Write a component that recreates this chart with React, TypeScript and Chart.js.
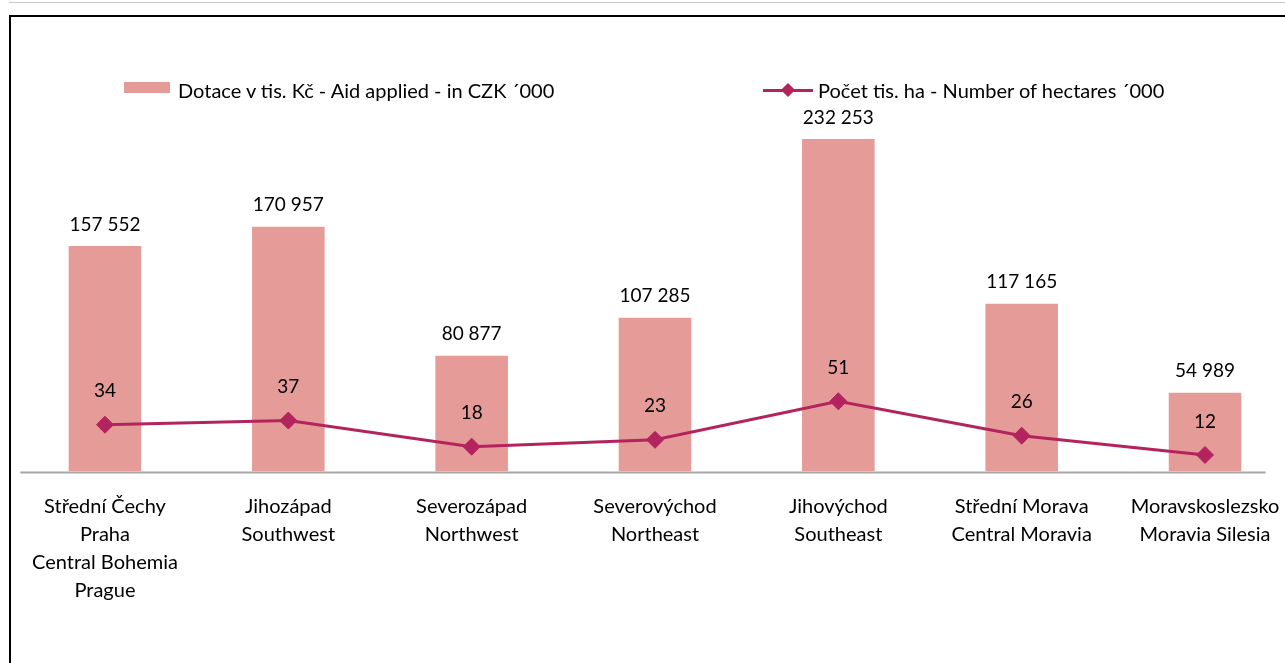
import React, { useEffect, useRef } from "react";
import { Chart, registerables } from "chart.js";

Chart.register(...registerables);

const categories: string[][] = [
  ["Střední Čechy", "Praha", "Central Bohemia", "Prague"],
  ["Jihozápad", "Southwest"],
  ["Severozápad", "Northwest"],
  ["Severovýchod", "Northeast"],
  ["Jihovýchod", "Southeast"],
  ["Střední Morava", "Central Moravia"],
  ["Moravskoslezsko", "Moravia Silesia"],
];
const aidValues: number[] = [157552, 170957, 80877, 107285, 232253, 117165, 54989];
const hectareValues: number[] = [34, 37, 18, 23, 51, 26, 12];
const aidLabel = "Dotace v tis. Kč - Aid applied - in CZK ´000";
const hectareLabel = "Počet tis. ha - Number of hectares ´000";

const BAR_COLOR = "#E59C98";
const LINE_COLOR = "#B3245E";
const FONT = "Lato, 'Noto Sans', sans-serif";

const fmt = (v: number) => String(v).replace(/\B(?=(\d{3})+(?!\d))/g, " ");

const labelsPlugin = {
  id: "valueLabels",
  afterDatasetsDraw(chart: any) {
    const ctx = chart.ctx;
    ctx.save();
    ctx.font = `19px ${FONT}`;
    ctx.fillStyle = "#000";
    ctx.textAlign = "center";
    ctx.textBaseline = "middle";
    chart.data.datasets.forEach((ds: any, i: number) => {
      const meta = chart.getDatasetMeta(i);
      meta.data.forEach((el: any, j: number) => {
        const v = ds.data[j];
        if (ds.type === "bar") {
          ctx.fillText(fmt(v), el.x, el.y - 21.5);
        } else {
          ctx.fillText(String(v), el.x, el.y - 33.5);
        }
      });
    });
    ctx.restore();
  },
};

const axisLinePlugin = {
  id: "axisLine",
  beforeDatasetsDraw(chart: any) {
    const { ctx, chartArea, scales } = chart;
    const y = scales.y.getPixelForValue(0) + 1;
    ctx.save();
    ctx.strokeStyle = "#A6A6A6";
    ctx.lineWidth = 2;
    ctx.beginPath();
    ctx.moveTo(chartArea.left + 7, y);
    ctx.lineTo(chartArea.right - 31, y);
    ctx.stroke();
    ctx.restore();
  },
};

export default function App() {
  const ref = useRef<HTMLCanvasElement | null>(null);

  useEffect(() => {
    if (!ref.current) return;
    const chart = new Chart(ref.current, {
      type: "bar",
      data: {
        labels: categories,
        datasets: [
          {
            type: "line",
            label: hectareLabel,
            data: hectareValues,
            yAxisID: "y2",
            borderColor: LINE_COLOR,
            backgroundColor: LINE_COLOR,
            borderWidth: 3,
            pointStyle: "rectRot",
            pointRadius: 8.5,
            pointBorderWidth: 1,
            pointBackgroundColor: LINE_COLOR,
            pointBorderColor: LINE_COLOR,
            tension: 0,
            order: 0,
            clip: false,
          } as any,
          {
            type: "bar",
            label: aidLabel,
            data: aidValues,
            yAxisID: "y",
            backgroundColor: BAR_COLOR,
            borderWidth: 0,
            barPercentage: 0.396,
            categoryPercentage: 1,
            order: 1,
          } as any,
        ],
      },
      options: {
        animation: false,
        responsive: false,
        devicePixelRatio: 1,
        layout: { padding: { top: 113.5, left: 13.3, right: 13.3, bottom: 0 } },
        plugins: { legend: { display: false }, tooltip: { enabled: false } },
        scales: {
          x: {
            offset: true,
            grid: { display: false, drawTicks: false },
            border: { display: false },
            ticks: {
              color: "#000",
              padding: 21,
              maxRotation: 0,
              autoSkip: false,
              font: { family: FONT, size: 20, lineHeight: "28px" },
            },
            afterFit: (scale: any) => {
              scale.height = 191.5;
            },
          },
          y: {
            display: false,
            min: 0,
            max: 250000,
          },
          y2: {
            display: false,
            position: "right",
            min: 0,
            max: 260,
          },
        },
      } as any,
      plugins: [axisLinePlugin, labelsPlugin],
    });
    return () => chart.destroy();
  }, []);

  const textStyle: React.CSSProperties = {
    position: "absolute",
    fontFamily: FONT,
    fontSize: 20,
    color: "#000",
    lineHeight: "20px",
    whiteSpace: "nowrap",
  };

  return (
    <div
      style={{
        position: "absolute",
        left: 0,
        top: 0,
        width: 1285,
        height: 663,
        overflow: "hidden",
        background: "#fff",
      }}
    >
      <div style={{ position: "absolute", left: 9, top: 2, right: 0, height: 1, background: "#C8C8C8" }} />
      <div
        style={{
          position: "absolute",
          left: 9,
          top: 15,
          width: 1400,
          height: 800,
          borderTop: "2px solid #000",
          borderLeft: "2px solid #000",
        }}
      />
      <canvas ref={ref} width={1310} height={663} style={{ position: "absolute", left: 0, top: 0 }} />
      {/* legend */}
      <div style={{ position: "absolute", left: 124, top: 82, width: 46, height: 11, background: BAR_COLOR }} />
      <div style={{ ...textStyle, left: 178, top: 80 }}>{aidLabel}</div>
      <div style={{ position: "absolute", left: 763, top: 88.5, width: 50, height: 3, background: LINE_COLOR }} />
      <div
        style={{
          position: "absolute",
          left: 783,
          top: 85,
          width: 10,
          height: 10,
          background: LINE_COLOR,
          transform: "rotate(45deg)",
        }}
      />
      <div style={{ ...textStyle, left: 818, top: 80 }}>{hectareLabel}</div>
    </div>
  );
}
